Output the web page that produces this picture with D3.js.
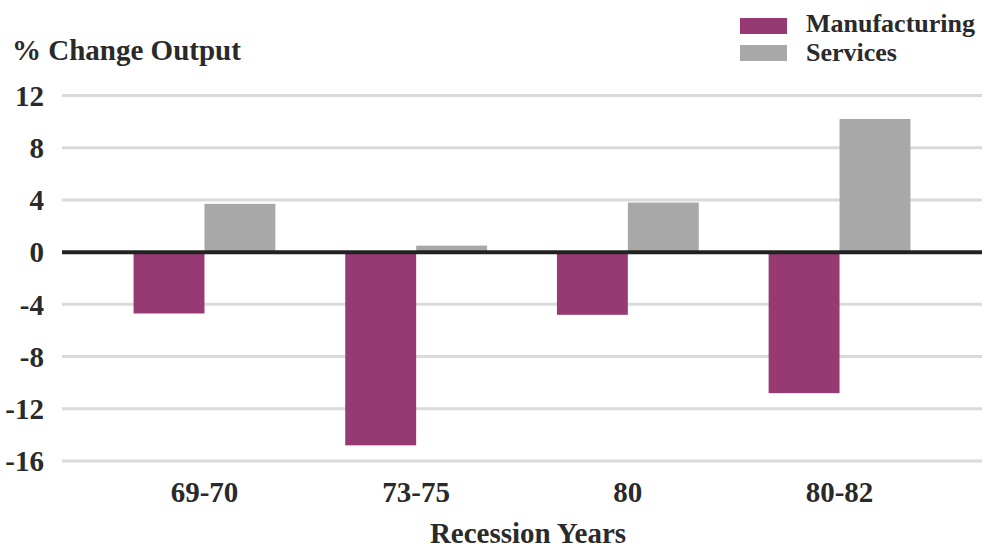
<!DOCTYPE html>
<html>
<head>
<meta charset="utf-8">
<script src="https://cdn.jsdelivr.net/npm/d3@7/dist/d3.min.js"></script>
<style>
  html, body { margin: 0; padding: 0; background: #fff; }
  svg { display: block; }
  text { font-family: "Liberation Serif", "DejaVu Serif", serif; font-weight: bold; fill: #2a2a2a; }
</style>
</head>
<body>
<svg id="chart" width="989" height="550"></svg>
<script>
// Recession periods on the x axis
const categories = ["69-70", "73-75", "80", "80-82"];
// Series names, in drawing order within each group
const seriesNames = ["Manufacturing", "Services"];
// % change in output per recession
const manufacturing = [-4.7, -14.8, -4.8, -10.8];
const services = [3.7, 0.5, 3.8, 10.2];
// Y axis ticks
const yTicks = [-16, -12, -8, -4, 0, 4, 8, 12];

const colors = { Manufacturing: "#973a73", Services: "#a8a8a8" };

const rows = categories.map((c, i) => ({
  category: c,
  values: [
    { key: "Manufacturing", value: manufacturing[i] },
    { key: "Services", value: services[i] }
  ]
}));

const svg = d3.select("#chart");
const left = 62, right = 982;

const y = d3.scaleLinear().domain([-16, 12]).range([461, 95.5]);
const x0 = d3.scaleBand().domain(categories).range([left, right])
  .paddingInner(0.33).paddingOuter(0.338);
const x1 = d3.scaleBand().domain(seriesNames).range([0, x0.bandwidth()]);

// Horizontal gridlines (zero line drawn separately on top of the bars)
svg.append("g").selectAll("line")
  .data(yTicks.filter(t => t !== 0))
  .join("line")
  .attr("x1", left).attr("x2", right)
  .attr("y1", d => y(d)).attr("y2", d => y(d))
  .attr("stroke", "#dadada").attr("stroke-width", 3);

// Y tick labels
svg.append("g").selectAll("text")
  .data(yTicks)
  .join("text")
  .attr("x", 44).attr("y", d => y(d))
  .attr("dy", "0.35em")
  .attr("text-anchor", "end")
  .style("font-size", "29px")
  .text(d => d);

// Bars
const groups = svg.append("g").selectAll("g")
  .data(rows)
  .join("g")
  .attr("transform", d => `translate(${x0(d.category)},0)`);

groups.selectAll("rect")
  .data(d => d.values)
  .join("rect")
  .attr("x", d => x1(d.key))
  .attr("width", x1.bandwidth())
  .attr("y", d => y(Math.max(0, d.value)))
  .attr("height", d => Math.abs(y(d.value) - y(0)))
  .attr("fill", d => colors[d.key]);

// Zero baseline
svg.append("line")
  .attr("x1", left).attr("x2", right)
  .attr("y1", y(0)).attr("y2", y(0))
  .attr("stroke", "#222").attr("stroke-width", 4);

// Category labels
svg.append("g").selectAll("text")
  .data(categories)
  .join("text")
  .attr("x", d => x0(d) + x0.bandwidth() / 2)
  .attr("y", 502)
  .attr("text-anchor", "middle")
  .style("font-size", "29px")
  .text(d => d);

// Axis titles
svg.append("text")
  .attr("x", 528).attr("y", 543)
  .attr("text-anchor", "middle")
  .style("font-size", "29px")
  .text("Recession Years");

svg.append("text")
  .attr("x", 12).attr("y", 60)
  .style("font-size", "29px")
  .text("% Change Output");

// Legend
const legend = svg.append("g").selectAll("g")
  .data(seriesNames)
  .join("g")
  .attr("transform", (d, i) => `translate(740,${18 + i * 27})`);

legend.append("rect")
  .attr("width", 47).attr("height", 16)
  .attr("fill", d => colors[d]);

legend.append("text")
  .attr("x", 66).attr("y", (d, i) => 14 + i * 1.5)
  .style("font-size", "26px")
  .text(d => d);
</script>
</body>
</html>
